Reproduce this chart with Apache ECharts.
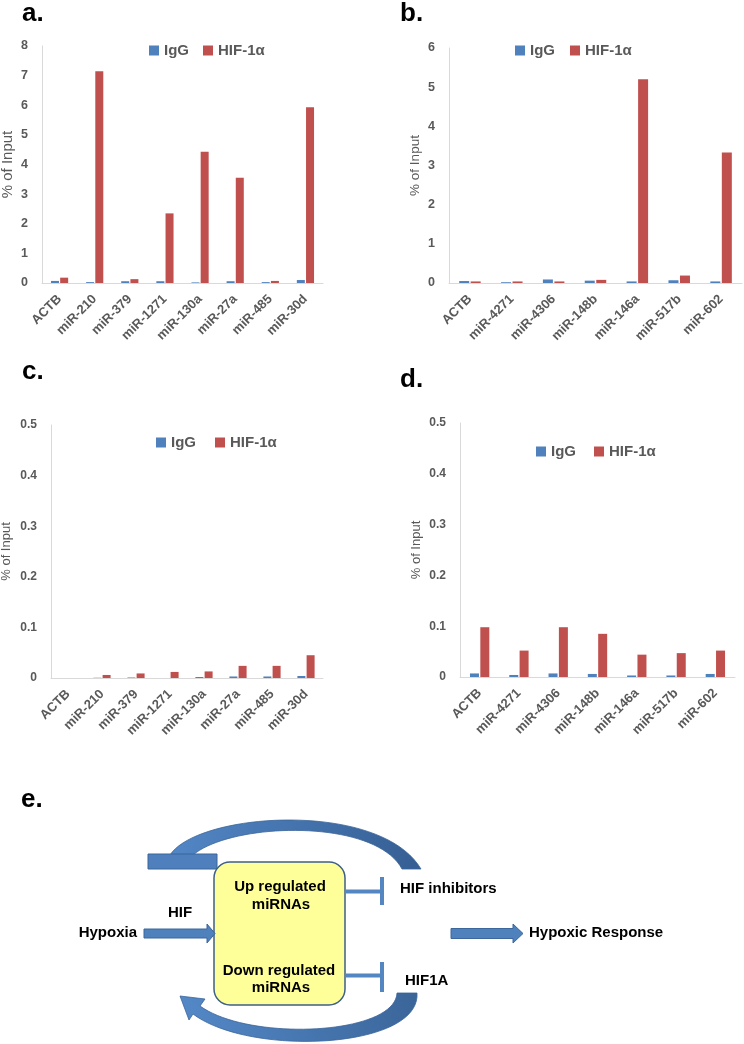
<!DOCTYPE html>
<html>
<head>
<meta charset="utf-8">
<script src="https://cdn.jsdelivr.net/npm/echarts@6/dist/echarts.min.js"></script>
<style>
html,body{margin:0;padding:0;background:#fff;}
#chart{width:744px;height:1044px;}
</style>
</head>
<body>
<div id="chart"></div>
<script>
// ---- data ----
const seriesNames = ['IgG', 'HIF-1\u03b1'];
const catsA = ['ACTB','miR-210','miR-379','miR-1271','miR-130a','miR-27a','miR-485','miR-30d'];
const igA  = [0.07, 0.03, 0.06, 0.06, 0.02, 0.06, 0.03, 0.10];
const hifA = [0.18, 7.15, 0.13, 2.35, 4.43, 3.55, 0.07, 5.93];
const catsB = ['ACTB','miR-4271','miR-4306','miR-148b','miR-146a','miR-517b','miR-602'];
const igB  = [0.05, 0.02, 0.09, 0.06, 0.04, 0.07, 0.04];
const hifB = [0.04, 0.04, 0.04, 0.08, 5.20, 0.19, 3.33];
const catsC = catsA;
const igC  = [0, 0.0005, 0.001, 0, 0.002, 0.003, 0.003, 0.004];
const hifC = [0, 0.006, 0.009, 0.012, 0.013, 0.024, 0.024, 0.045];
const catsD = catsB;
const igD  = [0.007, 0.004, 0.007, 0.006, 0.003, 0.003, 0.006];
const hifD = [0.098, 0.052, 0.098, 0.085, 0.044, 0.047, 0.052];
const yMax = [8, 6, 0.5, 0.5];
const yStep = [1, 1, 0.1, 0.1];
const yName = '% of Input';

// ---- styling ----
const FONT = '"Liberation Sans", Arial, sans-serif';
const GREY = '#595959';
const BLUE = '#4f81bd';
const RED = '#c0504d';
const AXIS = '#d9d9d9';

const grids = [
  {left: 42,  top: 46,  width: 281, height: 237, outerBoundsMode: 'none', containLabel: false},
  {left: 449, top: 48,  width: 293, height: 235, outerBoundsMode: 'none', containLabel: false},
  {left: 51,  top: 425, width: 272, height: 253, outerBoundsMode: 'none', containLabel: false},
  {left: 460, top: 423, width: 275, height: 254, outerBoundsMode: 'none', containLabel: false}
];
const nameGaps = [27, 27, 38, 37];
const nameSizes = [15, 13.5, 13, 13];
const tickSizes = [12.5, 12.5, 12, 12];
const barWidths = [8, 10, 8, 9];
const legendPos = [
  {left: 149, top: 43, itemGap: 14},
  {left: 515, top: 43, itemGap: 15},
  {left: 156, top: 435, itemGap: 19},
  {left: 536, top: 444, itemGap: 18}
];
const cats = [catsA, catsB, catsC, catsD];
const igs = [igA, igB, igC, igD];
const hifs = [hifA, hifB, hifC, hifD];

const xAxis = [], yAxis = [], series = [], legend = [];
for (let i = 0; i < 4; i++) {
  xAxis.push({
    type: 'category', gridIndex: i, data: cats[i],
    axisLine: {show: true, lineStyle: {color: AXIS, width: 1}},
    axisTick: {show: false},
    axisLabel: {interval: 0, rotate: 45, margin: 14, fontFamily: FONT, fontSize: 13, fontWeight: 'bold', color: GREY}
  });
  yAxis.push({
    type: 'value', gridIndex: i, min: 0, max: yMax[i], interval: yStep[i],
    name: yName, nameLocation: 'middle', nameGap: nameGaps[i],
    nameTextStyle: {fontFamily: FONT, fontSize: nameSizes[i], color: GREY},
    axisLine: {show: true, lineStyle: {color: AXIS, width: 1}},
    axisTick: {show: false},
    splitLine: {show: false},
    axisLabel: {margin: 14, fontFamily: FONT, fontSize: tickSizes[i], fontWeight: 'bold', color: GREY}
  });
  series.push({
    name: seriesNames[0], type: 'bar', xAxisIndex: i, yAxisIndex: i, data: igs[i],
    barWidth: barWidths[i], barGap: '15%', itemStyle: {color: BLUE}, silent: true
  });
  series.push({
    name: seriesNames[1], type: 'bar', xAxisIndex: i, yAxisIndex: i, data: hifs[i],
    barWidth: barWidths[i], barGap: '15%', itemStyle: {color: RED}, silent: true
  });
  legend.push({
    data: seriesNames, left: legendPos[i].left, top: legendPos[i].top, itemGap: legendPos[i].itemGap,
    padding: 0, icon: 'rect', itemWidth: 10, itemHeight: 10, selectedMode: false,
    textStyle: {fontFamily: FONT, fontSize: 15, fontWeight: 'bold', color: GREY}
  });
}

function txt(t, x, y, opts) {
  return {
    type: 'text', x: x, y: y, silent: true,
    style: Object.assign({text: t, fontFamily: FONT, fontSize: 15, fontWeight: 'bold', fill: '#000',
      align: 'center', verticalAlign: 'middle'}, opts || {})
  };
}
// sample a cubic bezier into points
function bez(p0, p1, p2, p3, n) {
  const pts = [];
  for (let k = 0; k <= n; k++) {
    const t = k / n, u = 1 - t;
    pts.push([
      u*u*u*p0[0] + 3*u*u*t*p1[0] + 3*u*t*t*p2[0] + t*t*t*p3[0],
      u*u*u*p0[1] + 3*u*u*t*p1[1] + 3*u*t*t*p2[1] + t*t*t*p3[1]
    ]);
  }
  return pts;
}
const topArcPts = bez([170,855],[198,812],[380,800],[421,869],40)
  .concat(bez([402,869],[375,818],[232,822],[193,855],40));
const botArcPts = bez([417,993],[421,1049],[250,1057],[193,1014],40)
  .concat([[189,1020],[180,996],[205,999]])
  .concat(bez([200,1006],[250,1042],[395,1035],[397,993],40));

const arcGrad = new echarts.graphic.LinearGradient(0, 0, 1, 1, [
  {offset: 0, color: '#5387c6'}, {offset: 1, color: '#355e93'}
]);
const arcGrad2 = new echarts.graphic.LinearGradient(1, 0, 0, 1, [
  {offset: 0, color: '#3a6599'}, {offset: 1, color: '#5489c8'}
]);
const ARROW = '#4f81bd';
const ARROW_STROKE = '#3b679d';

const graphic = [
  // panel letters
  txt('a.', 22, 14, {fontSize: 26, align: 'left'}),
  txt('b.', 400, 14, {fontSize: 26, align: 'left'}),
  txt('c.', 22, 372, {fontSize: 26, align: 'left'}),
  txt('d.', 400, 380, {fontSize: 26, align: 'left'}),
  txt('e.', 21, 800, {fontSize: 26, align: 'left'}),
  // top feedback arc with flat bar
  {type: 'polygon', silent: true, shape: {points: topArcPts},
   style: {fill: arcGrad, stroke: '#3a6599', lineWidth: 0.8}},
  {type: 'rect', silent: true, shape: {x: 148, y: 854, width: 69, height: 15},
   style: {fill: '#4f80bd', stroke: '#3a6599', lineWidth: 1}},
  // bottom feedback arc with arrowhead
  {type: 'polygon', silent: true, shape: {points: botArcPts},
   style: {fill: arcGrad2, stroke: '#3a6599', lineWidth: 0.8}},
  // central box
  {type: 'rect', silent: true, shape: {x: 214, y: 862, width: 131, height: 143, r: 16},
   style: {fill: '#ffff99', stroke: '#3e5f8a', lineWidth: 1.5}},
  txt('Up regulated', 280, 887),
  txt('miRNAs', 281, 905),
  txt('Down regulated', 279, 970.5),
  txt('miRNAs', 281, 988),
  // inhibition lines
  {type: 'line', silent: true, shape: {x1: 345, y1: 891.5, x2: 382, y2: 891.5}, style: {stroke: '#5486c2', lineWidth: 4}},
  {type: 'line', silent: true, shape: {x1: 382, y1: 877, x2: 382, y2: 905}, style: {stroke: '#5486c2', lineWidth: 4}},
  {type: 'line', silent: true, shape: {x1: 345, y1: 975.5, x2: 382, y2: 975.5}, style: {stroke: '#5486c2', lineWidth: 4}},
  {type: 'line', silent: true, shape: {x1: 382, y1: 962, x2: 382, y2: 992}, style: {stroke: '#5486c2', lineWidth: 4}},
  txt('HIF inhibitors', 400, 889, {align: 'left'}),
  txt('HIF1A', 405, 980.5, {align: 'left'}),
  // hypoxia arrow
  txt('HIF', 180, 913),
  txt('Hypoxia', 137, 933, {align: 'right'}),
  {type: 'polygon', silent: true,
   shape: {points: [[144,929],[207,929],[207,924],[215,933.5],[207,943],[207,938],[144,938]]},
   style: {fill: ARROW, stroke: ARROW_STROKE, lineWidth: 1}},
  // hypoxic response arrow
  {type: 'polygon', silent: true,
   shape: {points: [[451,928.5],[513,928.5],[513,924],[523,933.5],[513,943],[513,938.5],[451,938.5]]},
   style: {fill: ARROW, stroke: ARROW_STROKE, lineWidth: 1}},
  txt('Hypoxic Response', 529, 932.5, {align: 'left'})
];

const chart = echarts.init(document.getElementById('chart'), null, {renderer: 'canvas'});
chart.setOption({
  backgroundColor: '#ffffff',
  animation: false,
  textStyle: {fontFamily: FONT},
  grid: grids,
  xAxis: xAxis,
  yAxis: yAxis,
  legend: legend,
  series: series,
  graphic: graphic
});
</script>
</body>
</html>
